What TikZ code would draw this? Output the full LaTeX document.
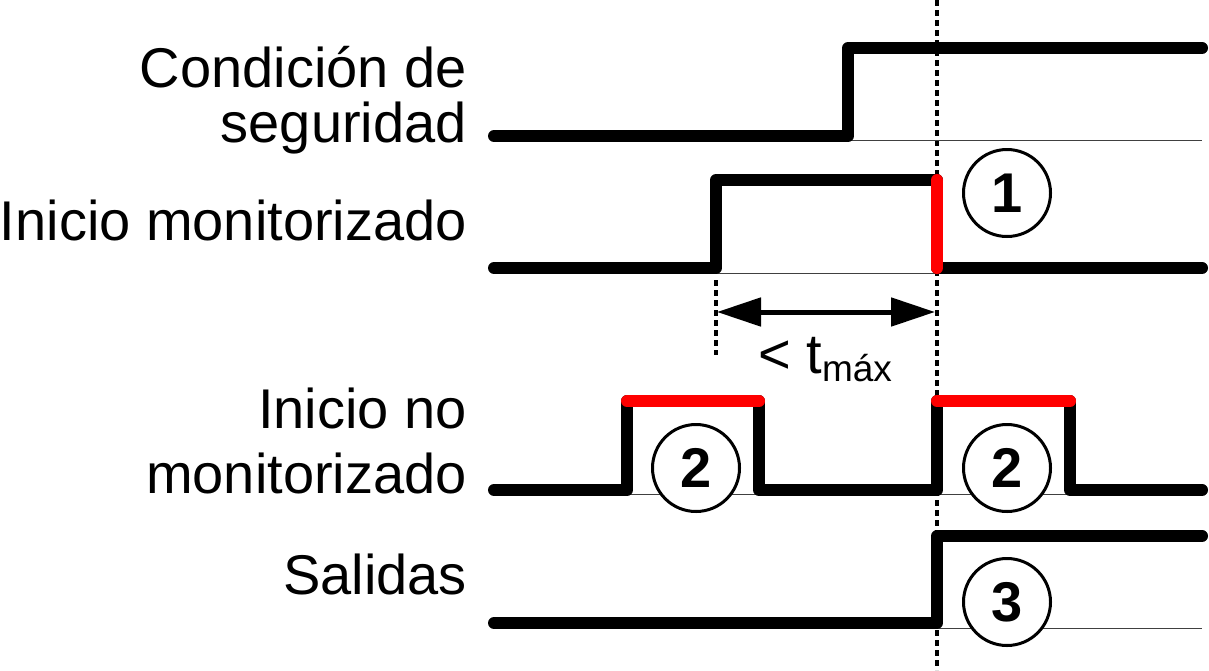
\documentclass[tikz,border=0pt]{standalone}
\usepackage{fontspec}
\setmainfont{Liberation Sans}
\usetikzlibrary{arrows.meta}
\tikzset{bigtri/.tip={Triangle[length=44pt,width=28pt]}}
\begin{document}
\begin{tikzpicture}[x=1pt,y=-1pt,
  sig/.style={line width=12pt, line cap=round, line join=round},
  hot/.style={sig, red},
  baseln/.style={line width=1pt, black!75},
  guide/.style={line width=3.5pt, dash pattern=on 6pt off 4pt},
  lbl/.style={anchor=base east, inner sep=0pt, font=\fontsize{56}{56}\selectfont},
  num/.style={circle, draw, fill=white, line width=3pt, minimum size=87pt, inner sep=0pt, font=\fontsize{56}{56}\selectfont\bfseries},
]
\useasboundingbox (0,0) rectangle (1209,670);

% guides
\draw[guide] (937,0) -- (937,670);
\draw[guide] (716,280) -- (716,355);

% thin baselines
\draw[baseln] (848,140) -- (1202,140);
\draw[baseln] (716,273) -- (937,273);
\draw[baseln] (627,494) -- (759,494);
\draw[baseln] (937,494) -- (1070,494);
\draw[baseln] (937,628) -- (1202,628);

% row 1: Condicion de seguridad
\draw[sig] (494,136) -- (848,136) -- (848,48) -- (1202,48);
% row 2: Inicio monitorizado
\draw[sig] (494,268) -- (716,268) -- (716,180) -- (937,180);
\draw[sig] (937,268) -- (1202,268);
\draw[hot] (937,180) -- (937,268);
% row 3: Inicio no monitorizado
\draw[sig] (494,490) -- (627,490) -- (627,401);
\draw[sig] (759,401) -- (759,490) -- (937,490) -- (937,401);
\draw[sig] (1070,401) -- (1070,490) -- (1202,490);
\draw[hot] (627,401) -- (759,401);
\draw[hot] (937,401) -- (1070,401);
% row 4: Salidas
\draw[sig] (494,623) -- (937,623) -- (937,536) -- (1202,536);

% circled numbers
\node[num] (c1) at (1007,193) {1};
\node[num] (c2a) at (696,468) {2};
\node[num] (c2b) at (1007,468) {2};
\node[num] (c3) at (1007,602) {3};

% time arrow
\coordinate (tA) at (717,312);
\coordinate (tB) at (935,312);
\draw[line width=5pt, bigtri-bigtri] (tA) -- (tB);
\node[anchor=base west, inner sep=0pt, font=\fontsize{56}{56}\selectfont] (tmax) at (758,373)
  {< t\raisebox{-8pt}{\fontsize{37}{37}\selectfont máx}};

% labels
\node[lbl] (l1a) at (467,87) {Condición de};
\node[lbl] (l1b) at (467,142) {seguridad};
\node[lbl] (l2) at (467,240) {Inicio monitorizado};
\node[lbl] (l3a) at (467,428) {Inicio no};
\node[lbl] (l3b) at (467,493) {monitorizado};
\node[lbl] (l4) at (467,594) {Salidas};
\end{tikzpicture}
\end{document}
